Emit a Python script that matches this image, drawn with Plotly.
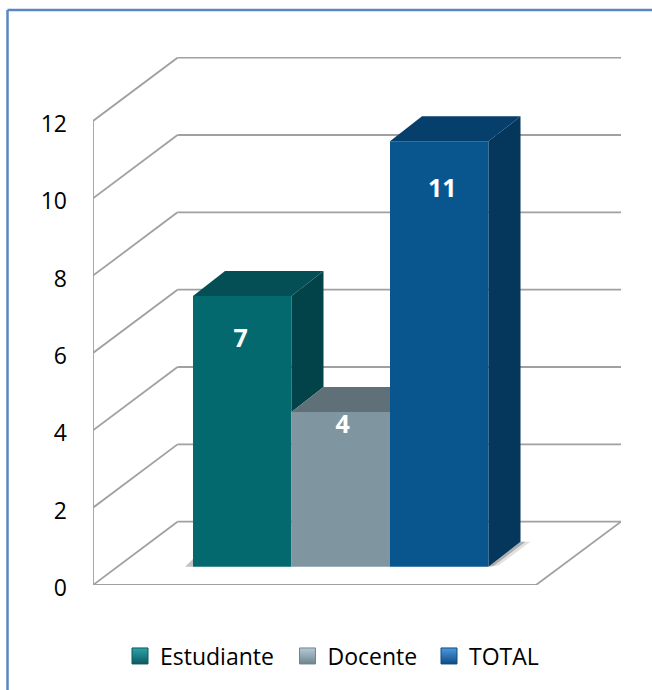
import plotly.graph_objects as go

# ---- data ----
categories = ["Estudiante", "Docente", "TOTAL"]
values = [7, 4, 11]
y_ticks = [0, 2, 4, 6, 8, 10, 12]

front_colors = ["#03696F", "#7F96A1", "#09568F"]
top_colors = ["#034F55", "#5F7079", "#063F6C"]
side_colors = ["#02434A", "#5F7079", "#05375C"]
legend_dark = ["#0A5A60", "#6E858F", "#0F4C82"]
legend_light = ["#2FA3AB", "#B5CAD4", "#4A9BE0"]
legend_left_px = [120, 287.5, 429]
label_drop = [1.145, 0.375, 1.265]
label_shift = [-0.015, 0.02, 0.03]

# ---- projection of the pseudo-3D box, in axis units ----
BAR_BASE = 0.473      # height of the bars' front foot over the front floor edge
BAR_DX, BAR_DY = 0.325, 0.646     # bar depth
WALL_DX, WALL_DY = 0.858, 1.637   # chart box depth
X_LEFT, X_FRONT_RIGHT = -1.515, 2.982
X_MIN, X_MAX = -1.515, 3.845
Y_MAX = 13.654

GRID = "#A0A0A0"
FRAME = "#5B87C0"

fig = go.Figure()


def line_shape(x0, y0, x1, y1, color=GRID, width=1.8):
    fig.add_shape(type="line", xref="x", yref="y", x0=x0, y0=y0, x1=x1, y1=y1,
                  layer="below", line=dict(color=color, width=width))


# walls, gridlines and floor
for t in y_ticks:
    line_shape(X_LEFT, t, X_LEFT + WALL_DX, t + WALL_DY)
    line_shape(X_LEFT + WALL_DX, t + WALL_DY, X_MAX, t + WALL_DY)
line_shape(X_LEFT, 0, X_LEFT, max(y_ticks))
line_shape(X_LEFT, 0, X_FRONT_RIGHT, 0)
line_shape(X_FRONT_RIGHT, 0, X_MAX, WALL_DY)


def poly(xs, ys, color):
    fig.add_trace(go.Scatter(x=xs + xs[:1], y=ys + ys[:1], mode="lines", fill="toself",
                             fillcolor=color, line=dict(width=0), hoverinfo="skip",
                             showlegend=False))


# soft floor shadows
poly([-0.58, -0.5, -0.5], [BAR_BASE, BAR_BASE, BAR_BASE + 0.2], "rgba(120,120,120,0.45)")
poly([2.5, 2.5 + BAR_DX, 2.5 + BAR_DX + 0.1, 2.6],
     [BAR_BASE, BAR_BASE + BAR_DY, BAR_BASE + BAR_DY, BAR_BASE + 0.03], "rgba(170,170,170,0.35)")
poly([2.5, 2.5 + BAR_DX, 2.5 + BAR_DX + 0.05, 2.55],
     [BAR_BASE, BAR_BASE + BAR_DY, BAR_BASE + BAR_DY, BAR_BASE + 0.02], "rgba(110,110,110,0.45)")

# front faces
for i, (c, v) in enumerate(zip(categories, values)):
    fig.add_trace(go.Bar(x=[i], y=[v], base=BAR_BASE, width=1, name=c,
                         marker=dict(color=front_colors[i], line=dict(width=0)),
                         showlegend=False, hovertemplate=f"{c}: {v}<extra></extra>"))

# side and top faces, hidden parts left out
for i, v in enumerate(values):
    left, right = i - 0.5, i + 0.5
    top = v + BAR_BASE
    nxt = values[i + 1] if i + 1 < len(values) else 0
    if nxt < v:
        low = nxt + BAR_BASE if nxt else BAR_BASE
        poly([right, right + BAR_DX, right + BAR_DX, right],
             [top, top + BAR_DY, low + BAR_DY, low], side_colors[i])
    if nxt > v:
        poly([left, left + BAR_DX, right, right], [top, top + BAR_DY, top + BAR_DY, top], top_colors[i])
    else:
        poly([left, left + BAR_DX, right + BAR_DX, right], [top, top + BAR_DY, top + BAR_DY, top], top_colors[i])

# data labels
fig.add_trace(go.Scatter(
    x=[i + s for i, s in enumerate(label_shift)],
    y=[v + BAR_BASE - d for v, d in zip(values, label_drop)],
    mode="text", text=[str(v) for v in values], textposition="middle center",
    textfont=dict(family="Open Sans", size=25, color="white", weight="bold"),
    hoverinfo="skip", showlegend=False))

# legend entries, one placed legend each so the uneven spacing can be kept
legend_names = ["legend", "legend2", "legend3"]
legend_layout = {}
for i, c in enumerate(categories):
    fig.add_trace(go.Scatter(
        x=[None], y=[None], mode="markers", name=c, legend=legend_names[i],
        marker=dict(symbol="square", size=16, color=legend_light[i],
                    gradient=dict(type="vertical", color=legend_dark[i]),
                    line=dict(color=legend_dark[i], width=1))))
    legend_layout[legend_names[i]] = dict(
        orientation="h", x=(legend_left_px[i] - 93) / 528, xanchor="left",
        y=-0.1345, yanchor="middle",
        font=dict(family="Open Sans", size=23, color="black"),
        itemsizing="trace", bgcolor="rgba(0,0,0,0)", itemwidth=30)

# frame (top and left edges)
x_paper = (7.5 - 93) / 528
y_paper = 1 + (57 - 10) / 528
fig.add_shape(type="line", xref="paper", yref="paper", x0=x_paper, x1=x_paper, y0=y_paper, y1=-0.2,
              line=dict(color=FRAME, width=2.5))
fig.add_shape(type="line", xref="paper", yref="paper", x0=x_paper, x1=1.1, y0=y_paper, y1=y_paper,
              line=dict(color=FRAME, width=2.5))

fig.update_layout(
    width=652, height=690, autosize=False,
    margin=dict(l=93, r=31, t=57, b=105),
    paper_bgcolor="white", plot_bgcolor="white",
    barmode="overlay",
    font=dict(family="Open Sans", color="black"),
    xaxis=dict(range=[X_MIN, X_MAX], visible=False, fixedrange=True),
    yaxis=dict(range=[0, Y_MAX], tickvals=y_ticks, showgrid=False, zeroline=False, showline=False,
               ticks="", ticklabelstandoff=25, ticklabelshift=3,
               tickfont=dict(family="Open Sans", size=23, color="black"),
               fixedrange=True),
    **legend_layout,
)

fig.write_html("out.html", config=dict(displayModeBar=False),
               post_script="document.body.style.margin='0';document.documentElement.style.overflow='hidden';")
